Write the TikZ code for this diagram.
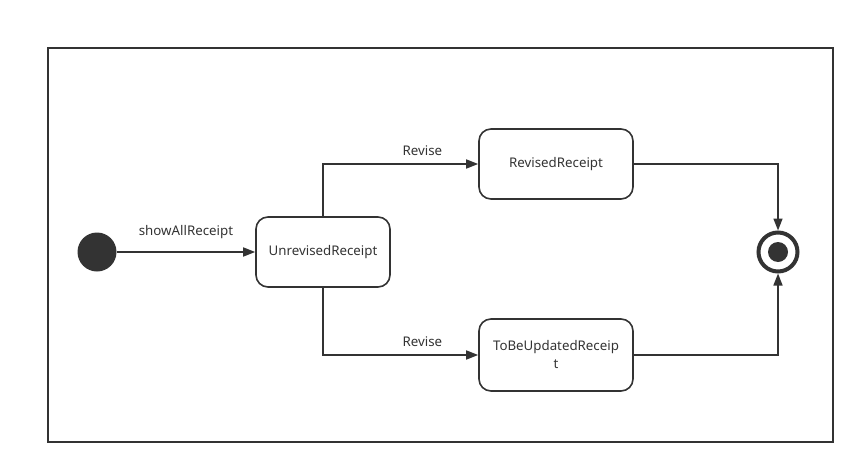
\documentclass[tikz,border=0pt]{standalone}
\usepackage{fontspec}
\setmainfont{Noto Sans}
\usetikzlibrary{arrows.meta}
\definecolor{ink}{HTML}{333333}
\tikzset{
  statebox/.style={draw=ink, line width=1.6pt, rounded corners=12pt, align=center, font=\fontsize{13.3}{18}\selectfont, text=ink},
  flow/.style={draw=ink, line width=1.6pt, -{Triangle[length=12pt,width=9pt]}},
  lbl/.style={font=\fontsize{13.3}{15}\selectfont, text=ink},
}
\begin{document}
\begin{tikzpicture}[x=1pt,y=-1pt]
\useasboundingbox (0,0) rectangle (865,474);
\node[draw=ink, line width=1.6pt, minimum width=785pt, minimum height=394pt, inner sep=0pt] (frame) at (440.5,245) {};
\node[circle, fill=ink, minimum size=39pt, inner sep=0pt] (init) at (97,252) {};
\node[statebox, minimum width=134pt, minimum height=70pt] (unrev) at (323,252) {UnrevisedReceipt};
\node[statebox, minimum width=154pt, minimum height=70pt] (rev) at (556,164) {RevisedReceipt};
\node[statebox, minimum width=154pt, minimum height=72pt] (tbu) at (556,355) {ToBeUpdatedReceip\\t};
\node[circle, draw=ink, line width=4pt, minimum size=39pt, inner sep=0pt] (final) at (778,252) {};
\node[circle, fill=ink, minimum size=20pt, inner sep=0pt] (finaldot) at (final) {};
\draw[flow] (init) -- node[lbl, above=9pt] {showAllReceipt} (unrev);
\draw[flow] (unrev.north) |- node[lbl, pos=0.82, above=4pt] {Revise} (rev.west);
\draw[flow] (unrev.south) |- node[lbl, pos=0.82, above=4pt] {Revise} (tbu.west);
\draw[flow] (rev.east) -| (final.north);
\draw[flow] (tbu.east) -| (final.south);
\end{tikzpicture}
\end{document}
